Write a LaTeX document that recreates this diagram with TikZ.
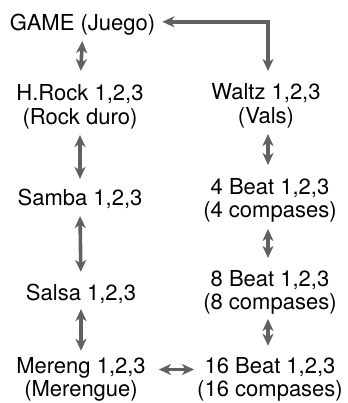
\documentclass[tikz,border=0pt]{standalone}
\usepackage{fontspec}
\setmainfont{TeX Gyre Heros}
\usetikzlibrary{arrows.meta}
\begin{document}
\begin{tikzpicture}[x=1pt,y=1pt,
  lbl/.style={inner sep=0pt, align=center, font=\fontsize{22}{21}\selectfont},
  arr/.style={draw=black!62, line width=3.6pt,
    {Stealth[length=12pt,width=11pt,inset=3.5pt]}-{Stealth[length=12pt,width=11pt,inset=3.5pt]}}]
\useasboundingbox (0,0) rectangle (347,403);
\fill[white] (0,0) rectangle (347,403);
% nodes
\node[lbl] (game)   at (82.5,377.2) {GAME (Juego)\strut};
\node[lbl] (hrock)  at (80,295.2)   {H.Rock 1,2,3\strut\\(Rock duro)\strut};
\node[lbl] (waltz)  at (266,296.2)  {Waltz 1,2,3\strut\\(Vals)\strut};
\node[lbl] (samba)  at (80,202.2)   {Samba 1,2,3\strut};
\node[lbl] (beat4)  at (270,201.7)  {4 Beat 1,2,3\strut\\(4 compases)\strut};
\node[lbl] (salsa)  at (81,107.2)   {Salsa 1,2,3\strut};
\node[lbl] (beat8)  at (270,109.7)  {8 Beat 1,2,3\strut\\(8 compases)\strut};
\node[lbl] (mereng) at (81,23.2)    {Mereng 1,2,3\strut\\(Merengue)\strut};
\node[lbl] (beat16) at (270,23.2)   {16 Beat 1,2,3\strut\\(16 compases)\strut};
% connectors
\draw[arr, shorten <=3.7pt, shorten >=13.8pt] (game.south) -- (hrock.north);
\draw[arr, shorten <=4.2pt, shorten >=10.3pt] (hrock.south) -- (samba.north);
\draw[arr, shorten <=3.7pt, shorten >=12.3pt] (samba.south) -- (salsa.north);
\draw[arr, shorten <=1.7pt, shorten >=6pt] (salsa.south) -- (mereng.north);
\draw[arr, shorten <=7pt, shorten >=12.8pt]
  ([yshift=4pt]game.east) -| ([xshift=2pt]waltz.north);
\draw[arr, shorten <=4.2pt, shorten >=13.3pt] ([xshift=2pt]waltz.south) -- ([xshift=-2pt]beat4.north);
\draw[arr, shorten <=4.7pt, shorten >=12.3pt] ([xshift=-2pt]beat4.south) -- ([xshift=-2pt]beat8.north);
\draw[arr, shorten <=2.7pt, shorten >=11pt] ([xshift=-2pt]beat8.south) -- ([xshift=-2pt]beat16.north);
\draw[arr, shorten <=13pt, shorten >=3pt]
  ([yshift=10.3pt]mereng.east) -- ([yshift=10.3pt]mereng.east -| beat16.west);
\end{tikzpicture}
\end{document}
